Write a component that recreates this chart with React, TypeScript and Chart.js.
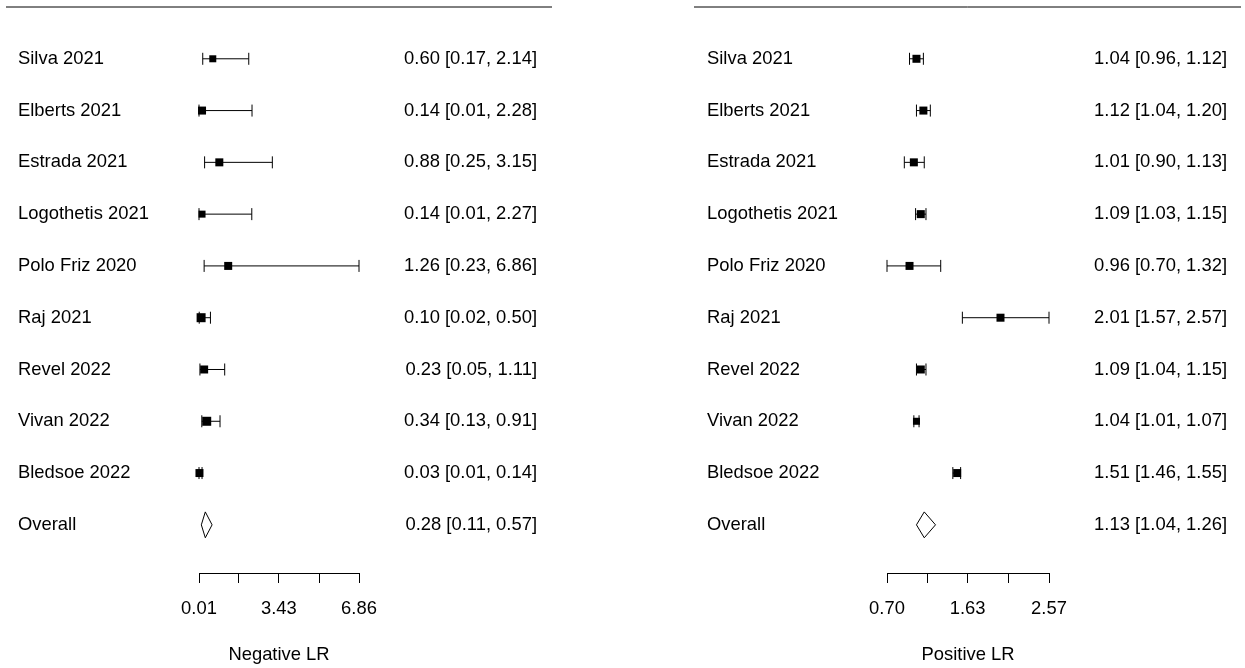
import React, { useEffect, useRef } from "react";
import { Chart, registerables } from "chart.js";

Chart.register(...registerables);

// ---------------- DATA ----------------
const STUDIES = [
  "Silva 2021",
  "Elberts 2021",
  "Estrada 2021",
  "Logothetis 2021",
  "Polo Friz 2020",
  "Raj 2021",
  "Revel 2022",
  "Vivan 2022",
  "Bledsoe 2022",
];
const SUMMARY_LABEL = "Overall";

const NEG_EST = [0.6, 0.14, 0.88, 0.14, 1.26, 0.1, 0.23, 0.34, 0.03];
const NEG_LO = [0.17, 0.01, 0.25, 0.01, 0.23, 0.02, 0.05, 0.13, 0.01];
const NEG_HI = [2.14, 2.28, 3.15, 2.27, 6.86, 0.5, 1.11, 0.91, 0.14];
const NEG_SUMMARY = [0.28, 0.11, 0.57]; // estimate, lower, upper
const NEG_TICKS = [0.01, 1.72, 3.43, 5.15, 6.86];
const NEG_TICK_LABELS = ["0.01", "", "3.43", "", "6.86"];
const NEG_TITLE = "Negative LR";

const POS_EST = [1.04, 1.12, 1.01, 1.09, 0.96, 2.01, 1.09, 1.04, 1.51];
const POS_LO = [0.96, 1.04, 0.9, 1.03, 0.7, 1.57, 1.04, 1.01, 1.46];
const POS_HI = [1.12, 1.2, 1.13, 1.15, 1.32, 2.57, 1.15, 1.07, 1.55];
const POS_SUMMARY = [1.13, 1.04, 1.26];
const POS_TICKS = [0.7, 1.17, 1.63, 2.1, 2.57];
const POS_TICK_LABELS = ["0.70", "", "1.63", "", "2.57"];
const POS_TITLE = "Positive LR";

// ---------------- STYLE / LAYOUT ----------------
const W = 1245;
const H = 668;
const FONT = "'Liberation Sans', Arial, sans-serif";
const FONT_SIZE = 18.4;
const TOP = 7;
const AXIS_Y = 573;
const ROW_MAX = 10.93;
const DIAMOND_HALF = 0.25;
const NEG_SQUARE = [7, 8, 8, 7, 8, 9, 8, 9, 8];
const POS_SQUARE = [8, 8, 8, 8, 8, 8, 8, 7, 8];

const LEFT_GEOM = { labelX: 18, axisL: 199, axisR: 359, textR: 537, lineL: 6, lineR: 552 };
const RIGHT_GEOM = { labelX: 707, axisL: 887, axisR: 1049, textR: 1227, lineL: 694, lineR: 1241 };

type PanelProps = {
  est: number[];
  lo: number[];
  hi: number[];
  summary: number[];
  ticks: number[];
  tickLabels: string[];
  title: string;
  square: number[];
  geom: typeof LEFT_GEOM;
};

const fmt = (e: number, l: number, h: number) =>
  `${e.toFixed(2)} [${l.toFixed(2)}, ${h.toFixed(2)}]`;

const zeroPad = (s: any) => {
  s.paddingTop = 0;
  s.paddingBottom = 0;
  s.paddingLeft = 0;
  s.paddingRight = 0;
};

function Panel(p: PanelProps) {
  const ref = useRef<HTMLCanvasElement | null>(null);

  useEffect(() => {
    if (!ref.current) return;
    const n = p.est.length;
    const sumRow = n + 1;
    const leftLabels = [...STUDIES, SUMMARY_LABEL];
    const rightLabels = [
      ...p.est.map((e, i) => fmt(e, p.lo[i], p.hi[i])),
      fmt(p.summary[0], p.summary[1], p.summary[2]),
    ];

    const datasets: any[] = [];
    datasets.push({
      data: p.est.map((e, i) => ({ x: e, y: i + 1 })),
      pointStyle: "rect",
      pointRadius: p.square.map((s) => s * Math.SQRT1_2),
      pointBackgroundColor: "#000",
      pointBorderWidth: 0,
      showLine: false,
      clip: false,
    });
    p.est.forEach((_, i) => {
      datasets.push({
        data: [
          { x: p.lo[i], y: i + 1 },
          { x: p.hi[i], y: i + 1 },
        ],
        showLine: true,
        borderColor: "#000",
        borderWidth: 1,
        pointStyle: "line",
        rotation: 90,
        pointRadius: 6,
        pointBorderColor: "#000",
        pointBorderWidth: 1,
        clip: false,
      });
    });
    const [se, sl, sh] = p.summary;
    datasets.push({
      data: [
        { x: sl, y: sumRow },
        { x: se, y: sumRow - DIAMOND_HALF },
        { x: sh, y: sumRow },
        { x: se, y: sumRow + DIAMOND_HALF },
        { x: sl, y: sumRow },
      ],
      showLine: true,
      borderColor: "#000",
      borderWidth: 1,
      pointRadius: 0,
      fill: false,
      tension: 0,
      clip: false,
    });

    const g = p.geom;
    const topLine = {
      id: "topLine",
      afterDraw(chart: any) {
        const ctx = chart.ctx;
        const y = chart.scales.y.getPixelForValue(0);
        ctx.save();
        ctx.strokeStyle = "#000";
        ctx.lineWidth = 1;
        ctx.beginPath();
        ctx.moveTo(g.lineL, y);
        ctx.lineTo(g.lineR, y);
        ctx.stroke();
        ctx.restore();
      },
    };

    const rowTicks = (s: any) => {
      s.ticks = leftLabels.map((_, i) => ({ value: i + 1 }));
    };

    const chart = new Chart(ref.current, {
      type: "scatter",
      data: { datasets },
      plugins: [topLine],
      options: {
        animation: false,
        responsive: false,
        devicePixelRatio: 1,
        events: [],
        layout: {
          padding: { left: g.labelX, right: W - g.textR, top: TOP, bottom: 0 },
        },
        plugins: { legend: { display: false }, tooltip: { enabled: false } },
        scales: {
          x: {
            type: "linear",
            position: "bottom",
            min: p.ticks[0],
            max: p.ticks[p.ticks.length - 1],
            afterBuildTicks: (s: any) => {
              s.ticks = p.ticks.map((v) => ({ value: v }));
            },
            afterFit: (s: any) => {
              s.height = H - AXIS_Y;
              zeroPad(s);
            },
            ticks: {
              autoSkip: false,
              maxRotation: 0,
              minRotation: 0,
              padding: 15,
              color: "#000",
              font: { family: FONT, size: FONT_SIZE },
              callback: (_v: any, i: number) => p.tickLabels[i],
            },
            grid: {
              drawOnChartArea: false,
              drawTicks: true,
              tickLength: 10,
              color: "#000",
              lineWidth: 1,
            },
            border: { display: true, color: "#000", width: 1 },
            title: {
              display: true,
              text: p.title,
              color: "#000",
              font: { family: FONT, size: FONT_SIZE },
              padding: { top: 0, bottom: 2 },
            },
          },
          y: {
            type: "linear",
            position: "left",
            min: 0,
            max: ROW_MAX,
            reverse: true,
            afterBuildTicks: rowTicks,
            afterFit: (s: any) => {
              s.width = g.axisL - g.labelX;
              zeroPad(s);
            },
            ticks: {
              autoSkip: false,
              crossAlign: "far",
              padding: 0,
              color: "#000",
              font: { family: FONT, size: FONT_SIZE },
              callback: (_v: any, i: number) => leftLabels[i],
            },
            grid: { display: false, drawTicks: false },
            border: { display: false },
          },
          yR: {
            type: "linear",
            position: "right",
            min: 0,
            max: ROW_MAX,
            reverse: true,
            afterBuildTicks: rowTicks,
            afterFit: (s: any) => {
              s.width = g.textR - g.axisR;
              zeroPad(s);
            },
            ticks: {
              autoSkip: false,
              crossAlign: "far",
              padding: 0,
              color: "#000",
              font: { family: FONT, size: FONT_SIZE },
              callback: (_v: any, i: number) => rightLabels[i],
            },
            grid: { display: false, drawTicks: false },
            border: { display: false },
          },
        },
      } as any,
    });
    return () => chart.destroy();
  }, []);

  return (
    <canvas
      ref={ref}
      width={W}
      height={H}
      style={{ position: "absolute", left: 0, top: 0, width: W, height: H, display: "block" }}
    />
  );
}

export default function App() {
  return (
    <div style={{ position: "fixed", left: 0, top: 0, width: W, height: H, background: "#fff" }}>
      <Panel
        est={NEG_EST}
        lo={NEG_LO}
        hi={NEG_HI}
        summary={NEG_SUMMARY}
        ticks={NEG_TICKS}
        tickLabels={NEG_TICK_LABELS}
        title={NEG_TITLE}
        square={NEG_SQUARE}
        geom={LEFT_GEOM}
      />
      <Panel
        est={POS_EST}
        lo={POS_LO}
        hi={POS_HI}
        summary={POS_SUMMARY}
        ticks={POS_TICKS}
        tickLabels={POS_TICK_LABELS}
        title={POS_TITLE}
        square={POS_SQUARE}
        geom={RIGHT_GEOM}
      />
    </div>
  );
}
